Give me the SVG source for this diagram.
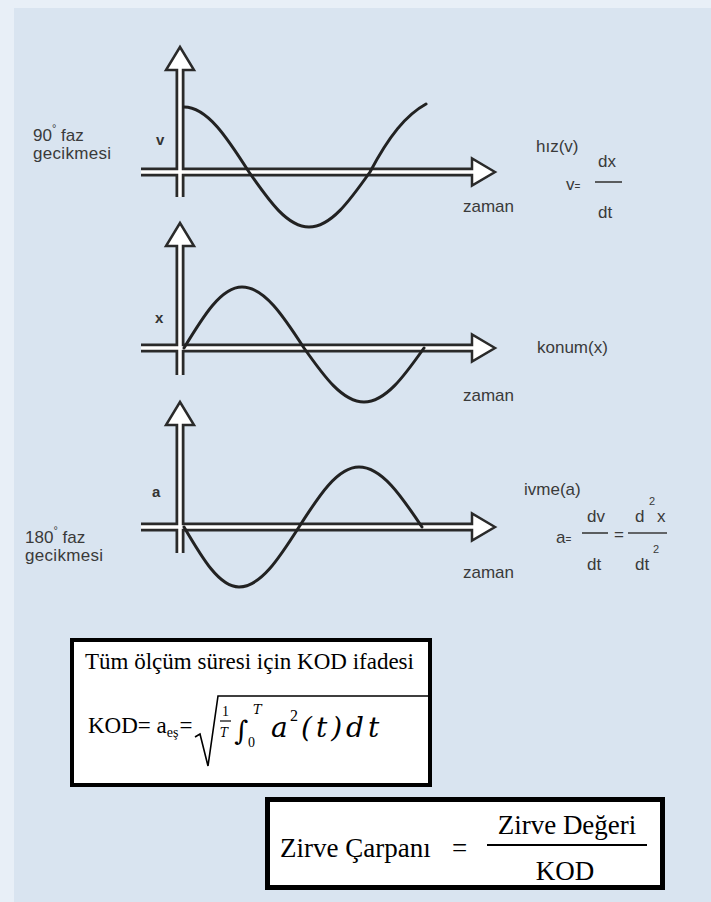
<svg xmlns="http://www.w3.org/2000/svg" width="711" height="902" viewBox="0 0 711 902">
<style>
.dk{stroke:#2a2a2a;stroke-width:9;fill:none}
.wt{stroke:#fff;stroke-width:3.5;fill:none}
.hd{fill:#fff;stroke:#2a2a2a;stroke-width:2.5;stroke-linejoin:miter}
.cv{fill:none;stroke:#222;stroke-width:3;stroke-linecap:round}
.lb{font-family:"Liberation Sans",Arial,sans-serif;font-size:17px;fill:#3a3a3a}
.ax{font-family:"Liberation Sans",Arial,sans-serif;font-size:15px;font-weight:bold;fill:#333}
.sm{font-family:"Liberation Sans",Arial,sans-serif;font-size:11px;fill:#3a3a3a}
.fl{stroke:#3a3a3a;stroke-width:1.6}
.sr{font-family:"Liberation Serif","Times New Roman",serif;fill:#000}
.mi{font-family:"DejaVu Serif","Liberation Serif",serif;font-style:italic;fill:#000}
.box{fill:#fff;stroke:#000}
</style>
<rect width="711" height="902" fill="#d9e4f0"/>
<rect width="14" height="902" fill="#e8eff7"/>
<rect width="711" height="8" fill="#e8eff7"/>

<g id="axes">
  <line class="dk" x1="141" y1="172" x2="473" y2="172"/>
  <line class="dk" x1="180" y1="70" x2="180" y2="197"/>
  <polygon class="hd" points="495,172 472,158.5 472,185.5"/>
  <polygon class="hd" points="180,47 166,70 194,70"/>
  <line class="wt" x1="141" y1="172" x2="475" y2="172"/>
  <line class="wt" x1="180" y1="67" x2="180" y2="197"/>

  <line class="dk" x1="141" y1="348" x2="473" y2="348"/>
  <line class="dk" x1="180" y1="246" x2="180" y2="375"/>
  <polygon class="hd" points="495,348 472,334.5 472,361.5"/>
  <polygon class="hd" points="180,223 166,246 194,246"/>
  <line class="wt" x1="141" y1="348" x2="475" y2="348"/>
  <line class="wt" x1="180" y1="243" x2="180" y2="375"/>

  <line class="dk" x1="141" y1="527" x2="473" y2="527"/>
  <line class="dk" x1="180" y1="425" x2="180" y2="553"/>
  <polygon class="hd" points="495,527 472,513.5 472,540.5"/>
  <polygon class="hd" points="180,402 166,425 194,425"/>
  <line class="wt" x1="141" y1="527" x2="475" y2="527"/>
  <line class="wt" x1="180" y1="422" x2="180" y2="553"/>
</g>

<g id="graph-v">
  <path class="cv" d="M184,107 C207.3,107 227.3,137.9 249,172 C269,200.9 287.5,227 309,227 C330.8,227 349.6,200.9 370,172 C389,136 406,115 426,104"/>
  <text class="lb" x="33" y="141" font-size="15.5">90<tspan class="sm" font-size="9" dy="-9">°</tspan><tspan dy="9"> faz</tspan></text>
  <text class="lb" x="33" y="159" font-size="15.5" textLength="78">gecikmesi</text>
  <text class="ax" x="156" y="145">v</text>
  <text class="lb" x="463" y="212">zaman</text>
  <text class="lb" x="536" y="152">hız(v)</text>
  <text class="lb" x="598" y="167">dx</text>
  <text class="lb" x="566" y="190" font-size="15">v<tspan font-size="10">=</tspan></text>
  <line class="fl" x1="595" y1="182" x2="622" y2="182"/>
  <text class="lb" x="598" y="218">dt</text>
</g>

<g id="graph-x">
  <path class="cv" d="M184,348 C203.4,316 221.2,287 242,287 C264.2,287 283.3,316 304,348 C324,376.4 342.5,402 364,402 C385.5,402 404,376.4 424,348"/>
  <text class="ax" x="155" y="323">x</text>
  <text class="lb" x="537" y="353">konum(x)</text>
  <text class="lb" x="463" y="401">zaman</text>
</g>

<g id="graph-a">
  <path class="cv" d="M184,527 C202.4,558.5 219.3,587 239,587 C260.5,587 279,558.5 299,527 C319,495.5 337.5,467 359,467 C381.6,467 401,495.5 422,527"/>
  <text class="ax" x="152" y="497">a</text>
  <text class="lb" x="25" y="543" font-size="15.5">180<tspan class="sm" font-size="9" dy="-9">°</tspan><tspan dy="9"> faz</tspan></text>
  <text class="lb" x="25" y="561" font-size="15.5" textLength="78">gecikmesi</text>
  <text class="lb" x="463" y="578">zaman</text>
  <text class="lb" x="524" y="495">ivme(a)</text>
  <text class="lb" x="556" y="543" font-size="15">a<tspan font-size="10">=</tspan></text>
  <text class="lb" x="587" y="522">dv</text>
  <line class="fl" x1="582" y1="533" x2="608" y2="533"/>
  <text class="lb" x="587" y="570">dt</text>
  <text class="lb" x="614" y="540" font-size="10">=</text>
  <text class="lb" x="635" y="522">d</text>
  <text class="sm" x="649" y="505" font-size="13">2</text>
  <text class="lb" x="657" y="522">x</text>
  <line class="fl" x1="628" y1="533" x2="667" y2="533"/>
  <text class="lb" x="635" y="570">dt</text>
  <text class="sm" x="653" y="553" font-size="13">2</text>
</g>

<g id="box-kod">
  <rect class="box" x="72" y="640" width="358" height="145" stroke-width="4"/>
  <text class="sr" x="85" y="669" font-size="23">Tüm ölçüm süresi için KOD ifadesi</text>
  <text class="sr" x="88" y="733" font-size="23">KOD= a<tspan font-size="14" dy="4">eş</tspan><tspan dy="-4" dx="1">=</tspan></text>
  <path d="M195,737 l5,-3 l8,32 l10,-70 H428" fill="none" stroke="#000" stroke-width="1.6"/>
  <text class="sr" x="222" y="716" font-size="14">1</text>
  <line x1="220" y1="721" x2="231" y2="721" stroke="#000" stroke-width="1.2"/>
  <text class="mi" x="220" y="737" font-size="12">T</text>
  <text class="mi" x="234" y="740" font-size="27">∫</text>
  <text class="mi" x="253" y="714" font-size="13">T</text>
  <text class="sr" x="248" y="747" font-size="14">0</text>
  <text class="mi" x="271" y="737" font-size="28">a</text>
  <text class="sr" x="290" y="721" font-size="16">2</text>
  <text class="mi" x="301" y="737" font-size="28" letter-spacing="4">(t)dt</text>
</g>

<g id="box-zirve">
  <rect class="box" x="267.5" y="799.5" width="395" height="88" stroke-width="5"/>
  <text class="sr" x="280" y="857" font-size="27">Zirve Çarpanı</text>
  <text class="sr" x="452" y="857" font-size="27">=</text>
  <text class="sr" x="567" y="834" font-size="27" text-anchor="middle">Zirve Değeri</text>
  <line x1="487" y1="845" x2="647" y2="845" stroke="#000" stroke-width="2"/>
  <text class="sr" x="565" y="880" font-size="27" text-anchor="middle">KOD</text>
</g>
</svg>
